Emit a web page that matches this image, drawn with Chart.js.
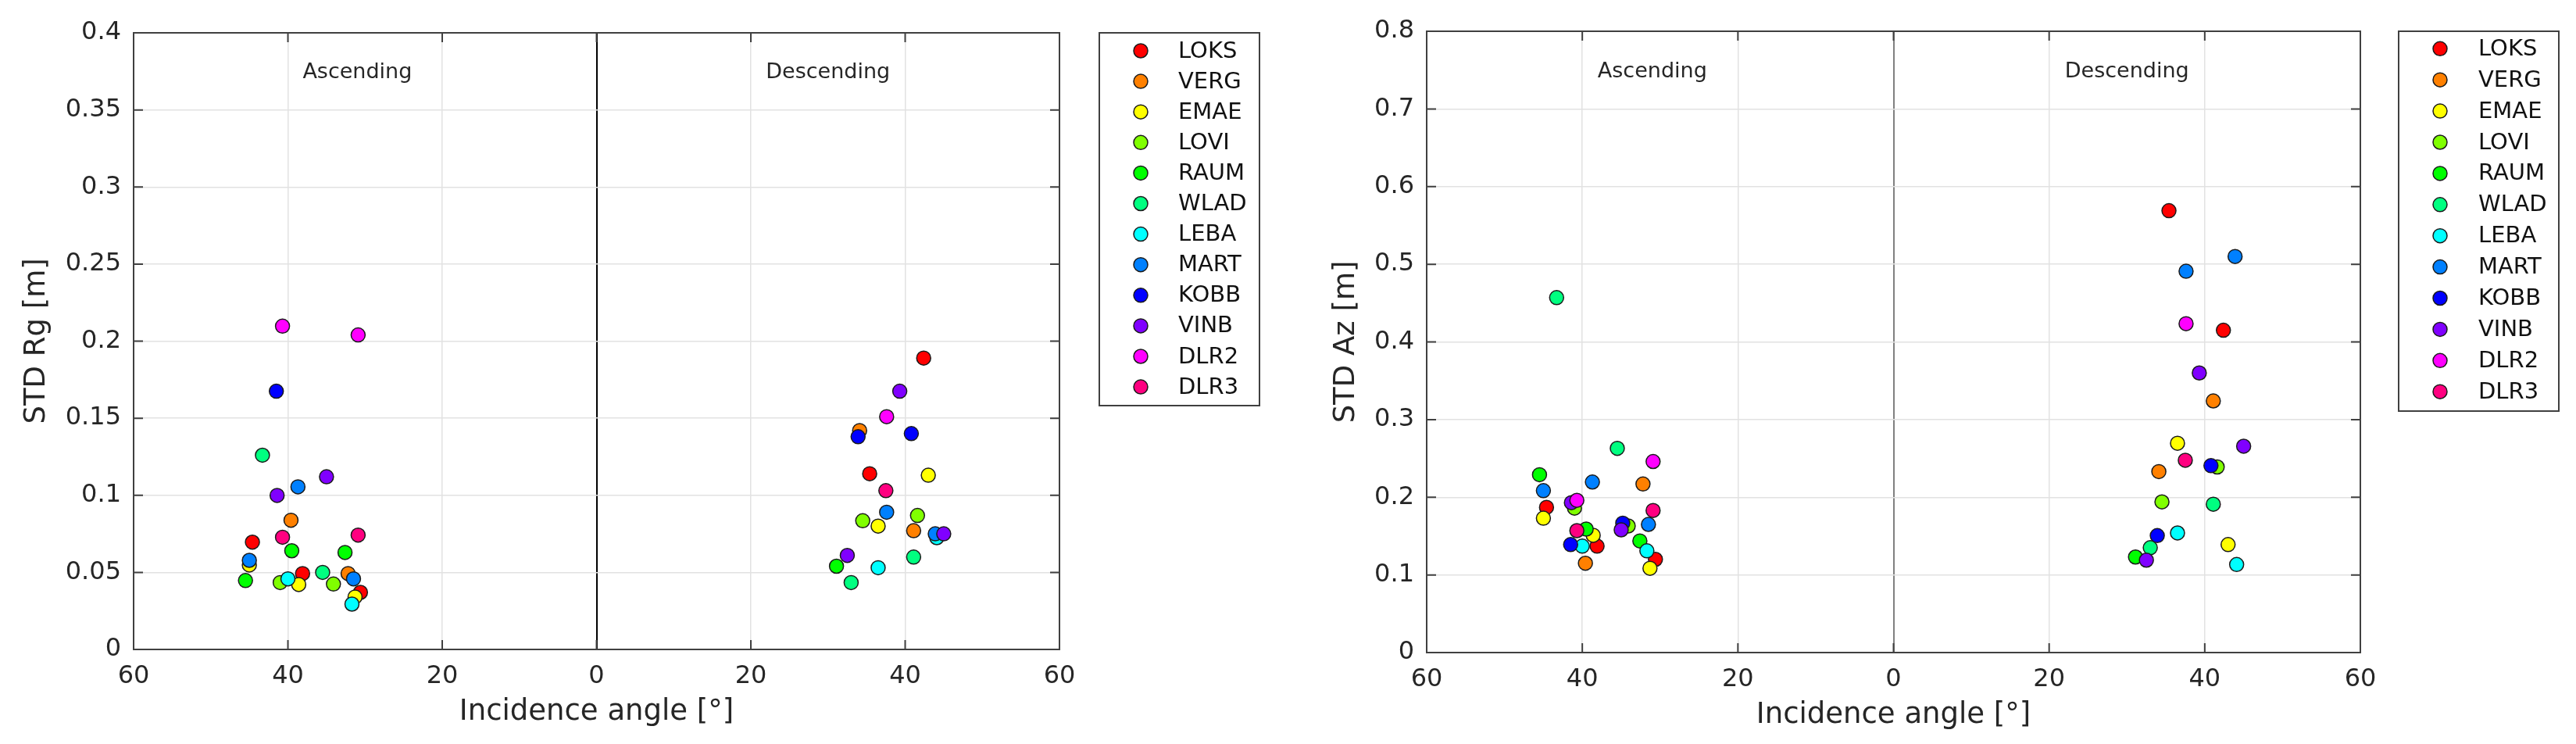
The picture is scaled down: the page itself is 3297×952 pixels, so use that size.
<!DOCTYPE html>
<html>
<head>
<meta charset="utf-8">
<title>STD Rg / Az vs incidence angle</title>
<script src="https://cdn.jsdelivr.net/npm/chart.js@4.4.0/dist/chart.umd.min.js"></script>
<style>
  body { margin: 0; background: #fff; }
  #wrap { position: relative; width: 3297px; height: 952px; }
  .pane { position: absolute; top: 0; height: 952px; }
</style>
</head>
<body>
<div id="wrap">
  <div class="pane" style="left:0;width:1650px"><canvas id="rgChart"></canvas></div>
  <div class="pane" style="left:1650px;width:1647px"><canvas id="azChart"></canvas></div>
</div>
<script>
// stations, in legend order
const stations = ['LOKS', 'VERG', 'EMAE', 'LOVI', 'RAUM', 'WLAD', 'LEBA', 'MART', 'KOBB', 'VINB', 'DLR2', 'DLR3'];
const stationColors = ['#ff0000', '#ff8000', '#ffff00', '#80ff00', '#00ff00', '#00ff80',
                       '#00ffff', '#0080ff', '#0000ff', '#8000ff', '#ff00ff', '#ff0080'];

// incidence angles [deg], ascending passes plotted on the negative side
const ascAngles = [
  [-44.6, -38.1, -30.6], [-39.6, -32.2], [-45.0, -38.6, -31.3], [-41.0, -34.1],
  [-45.5, -39.5, -32.6], [-43.3, -35.5], [-40.0, -31.7], [-45.0, -38.7, -31.5],
  [-41.5, -34.8], [-41.4, -35.0], [-40.7, -30.9], [-40.7, -30.9]
];
const descAngles = [
  [35.4, 42.4], [34.1, 41.1], [36.5, 43.0], [34.5, 41.6],
  [31.1], [33.0, 41.1], [36.5, 44.1], [37.6, 43.9],
  [33.9, 40.8], [32.5, 39.3, 45.0], [37.6], [37.5]
];

// STD range [m] (ascending values first, then descending)
const rgValues = [
  [0.0696, 0.0492, 0.037, 0.114, 0.189],
  [0.0838, 0.0492, 0.142, 0.077],
  [0.0548, 0.0421, 0.034, 0.080, 0.113],
  [0.0434, 0.0424, 0.0835, 0.0869],
  [0.0447, 0.064, 0.0629, 0.054],
  [0.126, 0.050, 0.0434, 0.0599],
  [0.0458, 0.0294, 0.053, 0.0725],
  [0.0578, 0.1055, 0.0458, 0.089, 0.075],
  [0.1675, null, 0.138, 0.140],
  [0.0999, 0.112, 0.061, 0.1675, 0.075],
  [0.2097, 0.204, 0.151],
  [0.0728, 0.0742, 0.103]
];
// STD azimuth [m]
const azValues = [
  [0.187, 0.137, 0.120, 0.569, 0.415],
  [0.115, 0.217, 0.233, 0.324],
  [0.173, 0.151, 0.1085, 0.2695, 0.139],
  [0.186, 0.163, 0.194, 0.239],
  [0.229, 0.159, 0.1437, 0.123],
  [0.457, 0.263, 0.135, 0.191],
  [0.137, 0.131, 0.154, 0.1134],
  [0.2085, 0.2196, 0.165, 0.491, 0.510],
  [0.139, 0.1666, 0.1506, 0.2407],
  [0.193, 0.158, 0.119, 0.360, 0.2657],
  [0.196, 0.246, 0.4235],
  [0.157, 0.183, 0.2476]
];

const trackLabels = [{ text: 'Ascending', x: -31 }, { text: 'Descending', x: 30 }];

Chart.defaults.font.family = '"DejaVu Sans", "Liberation Sans", sans-serif';
Chart.defaults.color = '#262626';

function buildDatasets(values) {
  return stations.map((name, i) => {
    const angles = ascAngles[i].concat(descAngles[i]);
    const pts = [];
    angles.forEach((a, k) => {
      if (values[i][k] !== null) pts.push({ x: a, y: values[i][k] });
    });
    return {
      label: name,
      data: pts,
      backgroundColor: stationColors[i],
      borderColor: '#1a1a1a',
      pointRadius: 9,
      pointBorderWidth: 1.5,
      order: stations.length - i   // later stations end up on top
    };
  });
}

// box, inward ticks, track labels and the boxed legend
const framePlugin = {
  id: 'frame',
  afterDraw(chart, args, opts) {
    const { ctx, chartArea: a, scales: { x, y } } = chart;
    ctx.save();
    ctx.strokeStyle = '#404040';
    ctx.lineWidth = 2;
    ctx.strokeRect(a.left, a.top, a.right - a.left, a.bottom - a.top);

    ctx.beginPath();
    x.ticks.forEach(t => {
      const px = x.getPixelForValue(t.value);
      ctx.moveTo(px, a.bottom); ctx.lineTo(px, a.bottom - 12);
      ctx.moveTo(px, a.top); ctx.lineTo(px, a.top + 12);
    });
    y.ticks.forEach(t => {
      const py = y.getPixelForValue(t.value);
      ctx.moveTo(a.left, py); ctx.lineTo(a.left + 12, py);
      ctx.moveTo(a.right, py); ctx.lineTo(a.right - 12, py);
    });
    ctx.stroke();

    ctx.fillStyle = '#262626';
    ctx.font = '27px "DejaVu Sans"';
    ctx.textAlign = 'center';
    ctx.textBaseline = 'middle';
    trackLabels.forEach(l => {
      ctx.fillText(l.text, x.getPixelForValue(l.x), y.getPixelForValue(y.max * 0.935));
    });

    // legend
    const lg = opts.legend;
    ctx.strokeStyle = '#404040';
    ctx.lineWidth = 2;
    ctx.strokeRect(lg.left, lg.top, lg.width, lg.height);
    ctx.font = '29px "DejaVu Sans"';
    ctx.textAlign = 'left';
    chart.data.datasets.forEach((ds, i) => {
      const cy = lg.firstY + i * lg.step;
      ctx.beginPath();
      ctx.arc(lg.markX, cy, 9, 0, Math.PI * 2);
      ctx.fillStyle = ds.backgroundColor;
      ctx.fill();
      ctx.lineWidth = 1.5;
      ctx.strokeStyle = '#1a1a1a';
      ctx.stroke();
      ctx.fillStyle = '#111';
      ctx.fillText(ds.label, lg.textX, cy + 1);
    });
    ctx.restore();
  }
};

function makeChart(id, cfg) {
  return new Chart(document.getElementById(id).getContext('2d'), {
    type: 'scatter',
    data: { datasets: buildDatasets(cfg.values) },
    options: {
      responsive: true,
      maintainAspectRatio: false,
      animation: false,
      devicePixelRatio: 1,
      layout: { padding: { top: cfg.top, right: cfg.padRight, left: 0, bottom: 0 } },
      plugins: {
        legend: { display: false },
        tooltip: { enabled: false },
        frame: { legend: cfg.legend }
      },
      scales: {
        x: {
          type: 'linear',
          min: -60,
          max: 60,
          afterFit: s => { s.height = cfg.xHeight; },
          ticks: {
            stepSize: 20,
            autoSkip: false,
            maxRotation: 0,
            padding: 15,
            font: { size: 32 },
            callback: v => Math.abs(v)
          },
          grid: {
            drawTicks: false,
            color: c => (c.tick && c.tick.value === 0) ? cfg.zeroColor : '#e2e2e2',
            lineWidth: c => (c.tick && c.tick.value === 0) ? 2 : 1.5
          },
          border: { display: false },
          title: {
            display: true,
            text: 'Incidence angle [°]',
            font: { size: 37 },
            padding: { top: 0, bottom: cfg.xTitlePad }
          }
        },
        y: {
          min: 0,
          max: cfg.yMax,
          afterFit: s => { s.width = cfg.yWidth; },
          ticks: {
            stepSize: cfg.yStep,
            autoSkip: false,
            padding: 16,
            font: { size: 32 },
            callback: v => String(+v.toFixed(3))
          },
          grid: { drawTicks: false, color: '#e2e2e2', lineWidth: 1.5 },
          border: { display: false },
          title: {
            display: true,
            text: cfg.yTitle,
            font: { size: 37 },
            padding: { top: cfg.yTitlePad, bottom: 0 }
          }
        }
      }
    },
    plugins: [framePlugin]
  });
}

makeChart('rgChart', {
  values: rgValues,
  yMax: 0.4, yStep: 0.05, yTitle: 'STD Rg [m]',
  top: 42, padRight: 294, yWidth: 171, xHeight: 121,
  yTitlePad: 25, xTitlePad: 18, zeroColor: '#000000',
  legend: { left: 1407, top: 42, width: 205, height: 477, markX: 1460, textX: 1508, firstY: 65, step: 39.1 }
});

makeChart('azChart', {
  values: azValues,
  yMax: 0.8, yStep: 0.1, yTitle: 'STD Az [m]',
  top: 40, padRight: 276, yWidth: 176, xHeight: 117,
  yTitlePad: 51, xTitlePad: 14, zeroColor: '#808080',
  legend: { left: 1420, top: 40, width: 205, height: 486, markX: 1473, textX: 1522, firstY: 62.3, step: 39.9 }
});
</script>
</body>
</html>
